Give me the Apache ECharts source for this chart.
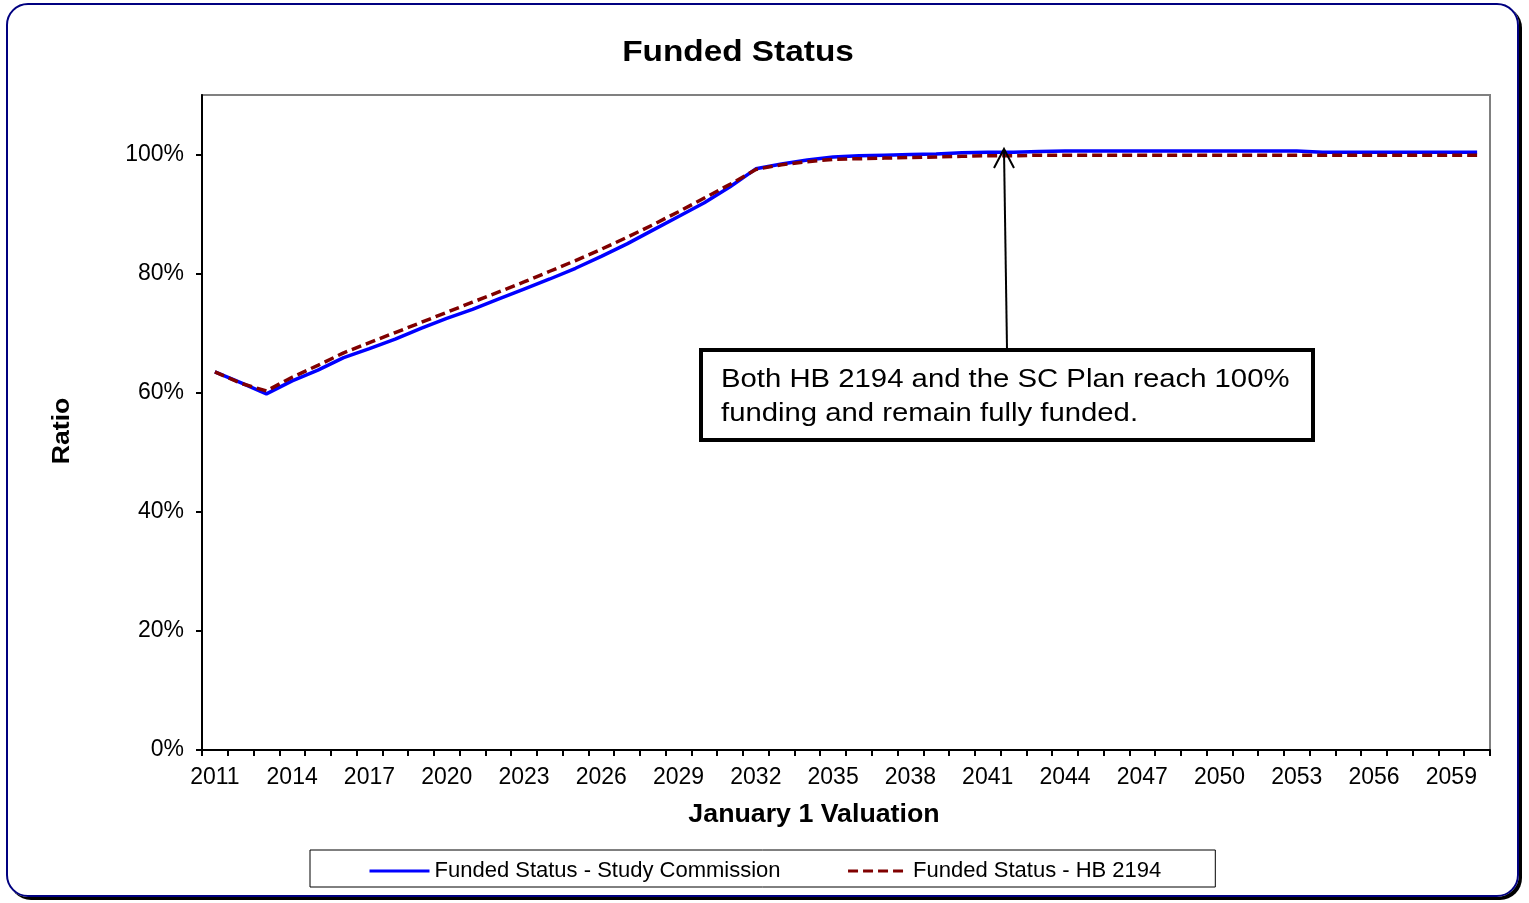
<!DOCTYPE html>
<html>
<head>
<meta charset="utf-8">
<script src="https://cdn.jsdelivr.net/npm/echarts@6/dist/echarts.min.js"></script>
<style>
  html, body { margin: 0; padding: 0; background: #fff; }
  #frame {
    position: absolute; left: 6px; top: 3px; width: 1513px; height: 894px;
    box-sizing: border-box; border: 2px solid #000080; border-radius: 22px;
    box-shadow: 3px 3px 0 #000;
  }
  #chart { position: absolute; left: 0; top: 0; width: 1529px; height: 903px; }
</style>
</head>
<body>
<div id="frame"></div>
<div id="chart"></div>
<script>
const years = ['2011','2012','2013','2014','2015','2016','2017','2018','2019','2020',
  '2021','2022','2023','2024','2025','2026','2027','2028','2029','2030',
  '2031','2032','2033','2034','2035','2036','2037','2038','2039','2040',
  '2041','2042','2043','2044','2045','2046','2047','2048','2049','2050',
  '2051','2052','2053','2054','2055','2056','2057','2058','2059','2060']

// Funded ratio in percent
const studyCommission = [63.5, 61.7, 59.8, 62.0, 63.8, 65.9, 67.4, 69.0, 70.8, 72.5,
  74.0, 75.7, 77.4, 79.1, 80.9, 82.9, 85.0, 87.3, 89.6, 91.9,
  94.6, 97.6, 98.4, 99.1, 99.6, 99.8, 99.9, 100.0, 100.1, 100.3,
  100.4, 100.4, 100.5, 100.6, 100.6, 100.6, 100.6, 100.6, 100.6, 100.6,
  100.6, 100.6, 100.6, 100.4, 100.4, 100.4, 100.4, 100.4, 100.4, 100.4]

const hb2194 = [63.5, 61.6, 60.3, 62.6, 64.6, 66.7, 68.4, 70.1, 71.8, 73.5,
  75.2, 76.9, 78.6, 80.4, 82.2, 84.1, 86.1, 88.2, 90.4, 92.7,
  95.0, 97.5, 98.3, 98.8, 99.2, 99.3, 99.4, 99.5, 99.6, 99.7,
  99.8, 99.8, 99.9, 99.9, 99.9, 99.9, 99.9, 99.9, 99.9, 99.9,
  99.9, 99.9, 99.9, 99.9, 99.9, 99.9, 99.9, 99.9, 99.9, 99.9]

const yTicks = [0, 20, 40, 60, 80, 100]

const FONT = '"Liberation Sans", Arial, sans-serif'
const chart = echarts.init(document.getElementById('chart'))

const option = {
  animation: false,
  textStyle: { fontFamily: FONT },
  grid: {
    left: 202, right: 39, top: 95, bottom: 153,
    show: true, borderColor: '#808080', borderWidth: 2
  },
  legend: {
    left: 310, top: 850,
    padding: [10, 54, 5, 58],
    itemGap: 66, itemWidth: 60, itemHeight: 14,
    backgroundColor: '#fff', borderColor: '#000', borderWidth: 1,
    lineStyle: { width: 3 },
    itemStyle: { opacity: 0 },
    textStyle: { fontSize: 22, color: '#000' },
    data: ['Funded Status - Study Commission', 'Funded Status - HB 2194']
  },
  xAxis: {
    type: 'category',
    data: years,
    boundaryGap: true,
    axisLine: { lineStyle: { color: '#000', width: 2 } },
    axisTick: { show: true, interval: 0, length: 6, lineStyle: { color: '#000', width: 2 } },
    axisLabel: { interval: 2, fontSize: 23, color: '#000', margin: 16 },
    splitLine: { show: false }
  },
  yAxis: {
    type: 'value',
    min: 0, max: 110, interval: 20,
    axisLine: { show: true, lineStyle: { color: '#000', width: 2 } },
    axisTick: { show: true, length: 6, lineStyle: { color: '#000', width: 2 } },
    axisLabel: {
      fontSize: 23, color: '#000', margin: 18, showMaxLabel: false,
      formatter: v => yTicks.includes(v) ? v + '%' : ''
    },
    splitLine: { show: false }
  },
  series: [
    {
      name: 'Funded Status - Study Commission',
      type: 'line',
      data: studyCommission,
      symbol: 'none',
      lineStyle: { color: '#0000ff', width: 3.5 },
      itemStyle: { color: '#0000ff' },
      z: 2
    },
    {
      name: 'Funded Status - HB 2194',
      type: 'line',
      data: hb2194,
      symbol: 'none',
      lineStyle: { color: '#800000', width: 3.5, type: [10, 5] },
      itemStyle: { color: '#800000' },
      z: 3
    }
  ],
  graphic: [
    // title and axis names (stretched horizontally like the original)
    {
      type: 'text', x: 738, y: 53, scaleX: 1.15,
      style: { text: 'Funded Status', font: 'bold 29px ' + FONT, fill: '#000',
        textAlign: 'center', textVerticalAlign: 'middle' }
    },
    {
      type: 'text', x: 814, y: 815, scaleX: 1.07,
      style: { text: 'January 1 Valuation', font: 'bold 25px ' + FONT, fill: '#000',
        textAlign: 'center', textVerticalAlign: 'middle' }
    },
    {
      type: 'text', x: 62, y: 431, rotation: Math.PI / 2, scaleX: 1.11,
      style: { text: 'Ratio', font: 'bold 24px ' + FONT, fill: '#000',
        textAlign: 'center', textVerticalAlign: 'middle' }
    },
    // annotation
    {
      type: 'line',
      shape: { x1: 1007, y1: 349, x2: 1004, y2: 150 },
      style: { stroke: '#000', lineWidth: 2 },
      z: 10
    },
    {
      type: 'polyline',
      shape: { points: [[994, 168], [1004, 149], [1014, 168]] },
      style: { stroke: '#000', lineWidth: 2, fill: null },
      z: 10
    },
    {
      type: 'rect',
      shape: { x: 701, y: 350, width: 612, height: 90 },
      style: { fill: '#fff', stroke: '#000', lineWidth: 4 },
      z: 10
    },
    {
      type: 'text',
      x: 721, y: 363, scaleX: 1.127,
      style: {
        text: 'Both HB 2194 and the SC Plan reach 100%\nfunding and remain fully funded.',
        font: '26px ' + FONT,
        lineHeight: 34,
        fill: '#000'
      },
      z: 11
    }
  ]
}

chart.setOption(option)
</script>
</body>
</html>
